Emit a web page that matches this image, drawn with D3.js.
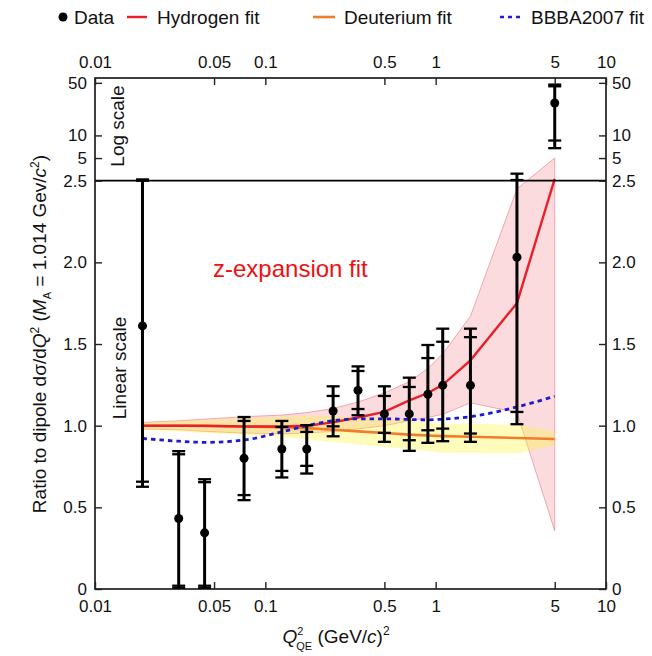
<!DOCTYPE html>
<html><head><meta charset="utf-8">
<script src="https://cdn.jsdelivr.net/npm/d3@7/dist/d3.min.js"></script>
<style>
html,body{margin:0;padding:0;background:#fff;}
svg text{font-family:"Liberation Sans",Arial,Helvetica,sans-serif;}
</style></head>
<body><svg id="c" width="652" height="656"></svg>
<script>
// ---- data ----
const q2 = [0.019, 0.031, 0.044, 0.075, 0.125, 0.175, 0.25, 0.35, 0.5, 0.7, 0.9, 1.1, 1.6, 3.0, 5.0];
const ratio = [1.611, 0.432, 0.344, 0.80, 0.857, 0.857, 1.09, 1.216, 1.072, 1.072, 1.192, 1.247, 1.247, 2.031, 27];
const statHi = [2.5, 0.825, 0.654, 1.029, 0.992, 0.962, 1.182, 1.335, 1.182, 1.237, 1.414, 1.514, 1.542, 2.55, 45];
const totHi  = [2.6, 0.844, 0.672, 1.053, 1.029, 1.003, 1.241, 1.363, 1.241, 1.294, 1.494, 1.594, 1.594, 3.1, 47.4];
const statLo = [0.657, 0.02, 0.02, 0.575, 0.723, 0.754, 0.996, 1.102, 0.956, 0.911, 0.972, 0.982, 0.952, 1.084, 8.55];
const totLo  = [0.626, 0.005, 0.005, 0.544, 0.683, 0.707, 0.935, 1.064, 0.901, 0.846, 0.895, 0.905, 0.901, 1.009, 6.77];

const hFit = [1.0, 1.0, 1.0, 0.995, 0.995, 1.0, 1.02, 1.05, 1.085, 1.155, 1.2, 1.25, 1.40, 1.75, 2.65];
const hHi  = [1.02, 1.03, 1.04, 1.055, 1.065, 1.08, 1.105, 1.145, 1.2, 1.27, 1.35, 1.44, 1.67, 2.45, 5.0];
const hLo  = [0.98, 0.975, 0.965, 0.955, 0.95, 0.955, 0.965, 0.98, 1.0, 1.03, 1.05, 1.07, 1.14, 1.08, 0.357];

const dFit = [1.0, 1.0, 0.998, 0.995, 0.99, 0.985, 0.975, 0.965, 0.955, 0.945, 0.94, 0.936, 0.932, 0.925, 0.918];
const dHi  = [1.02, 1.03, 1.035, 1.045, 1.055, 1.06, 1.06, 1.055, 1.045, 1.03, 1.02, 1.01, 1.014, 1.005, 0.965];
const dLo  = [0.975, 0.965, 0.955, 0.945, 0.93, 0.915, 0.9, 0.885, 0.87, 0.855, 0.845, 0.835, 0.832, 0.83, 0.88];

const bbba = [0.922, 0.905, 0.898, 0.912, 0.962, 1.0, 1.03, 1.042, 1.042, 1.038, 1.036, 1.04, 1.055, 1.115, 1.18];

const xTicks = [0.01, 0.05, 0.1, 0.5, 1, 5, 10];
const xTickLabels = ["0.01", "0.05", "0.1", "0.5", "1", "5", "10"];
const yLinTicks = [0, 0.5, 1.0, 1.5, 2.0, 2.5];
const yLinTickLabels = ["0", "0.5", "1.0", "1.5", "2.0", "2.5"];
const yLogTicks = [5, 10, 50];
const yLogTickLabels = ["5", "10", "50"];

// ---- layout ----
const L = 95, R = 606, T = 78, B = 589, YBREAK = 180.7;
const svg = d3.select("#c");
const x = d3.scaleLog().domain([0.01, 10]).range([L, R]);
const yLin = d3.scaleLinear().domain([0, 2.5]).range([B, YBREAK]);
const yLog = d3.scaleLog().domain([2.5, 58]).range([YBREAK, T]);
const Y = v => v <= 2.5 ? yLin(v) : yLog(v);

const idx = d3.range(q2.length);

svg.append("defs").append("clipPath").attr("id", "clip")
  .append("rect").attr("x", L).attr("y", T).attr("width", R - L).attr("height", B - T);
const plot = svg.append("g").attr("clip-path", "url(#clip)");

// bands
const band = (hi, lo) => d3.area().x(i => x(q2[i])).y0(i => Y(lo[i])).y1(i => Y(hi[i]))(idx);
plot.append("path").attr("d", band(hHi, hLo))
  .attr("fill", "rgba(238,90,100,0.22)").attr("stroke", "rgba(232,120,130,0.6)").attr("stroke-width", 1);
plot.append("path").attr("d", band(dHi, dLo))
  .attr("fill", "rgba(255,245,60,0.35)").attr("stroke", "none");

const line = (arr, curve) => d3.line().x(i => x(q2[i])).y(i => Y(arr[i])).curve(curve || d3.curveLinear)(idx);
plot.append("path").attr("d", line(dFit)).attr("fill", "none").attr("stroke", "#f07d2c").attr("stroke-width", 2.6);
plot.append("path").attr("d", line(hFit)).attr("fill", "none").attr("stroke", "#e8202a").attr("stroke-width", 2.4);
plot.append("path").attr("d", line(bbba, d3.curveMonotoneX)).attr("fill", "none").attr("stroke", "#1c1ccf")
  .attr("stroke-width", 2.8).attr("stroke-dasharray", "4.5,4");

// break line at 2.5
svg.append("line").attr("x1", L).attr("x2", R).attr("y1", YBREAK).attr("y2", YBREAK)
  .attr("stroke", "#000").attr("stroke-width", 1.8);

// data with error bars
const eg = plot.append("g");
idx.forEach(i => {
  const cx = x(q2[i]);
  eg.append("line").attr("x1", cx).attr("x2", cx).attr("y1", Y(totLo[i])).attr("y2", Y(totHi[i]))
    .attr("stroke", "#000").attr("stroke-width", 3);
  [totHi[i], statHi[i], statLo[i], totLo[i]].forEach(v => {
    eg.append("line").attr("x1", cx - 6.5).attr("x2", cx + 6.5).attr("y1", Y(v)).attr("y2", Y(v))
      .attr("stroke", "#000").attr("stroke-width", 2.3);
  });
  eg.append("circle").attr("cx", cx).attr("cy", Y(ratio[i])).attr("r", 4.5).attr("fill", "#000");
});

// frame
svg.append("rect").attr("x", L).attr("y", T).attr("width", R - L).attr("height", B - T)
  .attr("fill", "none").attr("stroke", "#111").attr("stroke-width", 1.6);

// axes
const fs = 17;
function styleAxis(g) {
  g.select(".domain").remove();
  g.selectAll(".tick line").attr("stroke", "#222").attr("stroke-width", 1.4);
  g.selectAll(".tick text").attr("font-size", fs).attr("fill", "#111")
    .attr("font-family", "Liberation Sans, Arial, sans-serif");
}
const xfmt = d => xTickLabels[xTicks.indexOf(d)];
svg.append("g").attr("transform", `translate(0,${B})`)
  .call(d3.axisBottom(x).tickValues(xTicks).tickFormat(xfmt).tickSizeInner(-7).tickSizeOuter(0).tickPadding(11))
  .call(styleAxis);
svg.append("g").attr("transform", `translate(0,${T})`)
  .call(d3.axisTop(x).tickValues(xTicks).tickFormat(xfmt).tickSizeInner(-7).tickSizeOuter(0).tickPadding(10))
  .call(styleAxis);

const linFmt = d => yLinTickLabels[yLinTicks.indexOf(d)];
const logFmt = d => yLogTickLabels[yLogTicks.indexOf(d)];
svg.append("g").attr("transform", `translate(${L},0)`)
  .call(d3.axisLeft(yLin).tickValues(yLinTicks).tickFormat(linFmt).tickSizeInner(-7).tickSizeOuter(0).tickPadding(8))
  .call(styleAxis);
svg.append("g").attr("transform", `translate(${L},0)`)
  .call(d3.axisLeft(yLog).tickValues(yLogTicks).tickFormat(logFmt).tickSizeInner(-7).tickSizeOuter(0).tickPadding(8))
  .call(styleAxis);
svg.append("g").attr("transform", `translate(${R},0)`)
  .call(d3.axisRight(yLin).tickValues(yLinTicks).tickFormat(linFmt).tickSizeInner(-7).tickSizeOuter(0).tickPadding(6))
  .call(styleAxis);
svg.append("g").attr("transform", `translate(${R},0)`)
  .call(d3.axisRight(yLog).tickValues(yLogTicks).tickFormat(logFmt).tickSizeInner(-7).tickSizeOuter(0).tickPadding(6))
  .call(styleAxis);

// annotations
svg.append("text").attr("transform", `translate(124,126) rotate(-90)`).attr("text-anchor", "middle")
  .attr("font-size", 19).attr("fill", "#111").text("Log scale");
svg.append("text").attr("transform", `translate(126,368) rotate(-90)`).attr("text-anchor", "middle")
  .attr("font-size", 19).attr("fill", "#111").text("Linear scale");
svg.append("text").attr("x", 213).attr("y", 277).attr("font-size", 24).attr("fill", "#f01010").text("z-expansion fit");

// y label
const yl = svg.append("text").attr("transform", `translate(46,334) rotate(-90)`).attr("text-anchor", "middle")
  .attr("font-size", 19).attr("fill", "#111");
yl.append("tspan").text("Ratio to dipole d\u03C3/d");
yl.append("tspan").text("Q").attr("font-style", "italic");
yl.append("tspan").text("2").attr("font-size", 12).attr("dy", -7);
yl.append("tspan").text(" (").attr("dy", 7);
yl.append("tspan").text("M").attr("font-style", "italic");
yl.append("tspan").text("A").attr("font-size", 11).attr("dy", 5);
yl.append("tspan").text(" = 1.014 Gev/").attr("dy", -5);
yl.append("tspan").text("c").attr("font-style", "italic");
yl.append("tspan").text("2").attr("font-size", 12).attr("dy", -7);
yl.append("tspan").text(")").attr("dy", 7);

// x label
const xl = svg.append("text").attr("x", 336).attr("y", 643).attr("text-anchor", "middle")
  .attr("font-size", 19).attr("fill", "#111");
xl.append("tspan").text("Q").attr("font-style", "italic");
xl.append("tspan").text("2").attr("font-size", 11).attr("dy", -8);
xl.append("tspan").text("QE").attr("font-size", 11).attr("dx", -7).attr("dy", 15);
xl.append("tspan").text(" (GeV/").attr("dy", -7);
xl.append("tspan").text("c").attr("font-style", "italic");
xl.append("tspan").text(")");
xl.append("tspan").text("2").attr("font-size", 12).attr("dy", -8);

// legend
const lg = svg.append("g").attr("font-size", 19);
const ly = 17;
lg.append("circle").attr("cx", 63).attr("cy", ly).attr("r", 4.5).attr("fill", "#000");
lg.append("text").attr("x", 74).attr("y", ly + 7).text("Data").attr("fill", "#111");
lg.append("line").attr("x1", 127).attr("x2", 147).attr("y1", ly).attr("y2", ly).attr("stroke", "#e8202a").attr("stroke-width", 2.4);
lg.append("text").attr("x", 157).attr("y", ly + 7).text("Hydrogen fit").attr("fill", "#111");
lg.append("line").attr("x1", 313).attr("x2", 335).attr("y1", ly).attr("y2", ly).attr("stroke", "#f07d2c").attr("stroke-width", 2.6);
lg.append("text").attr("x", 344).attr("y", ly + 7).text("Deuterium fit").attr("fill", "#111");
lg.append("line").attr("x1", 500).attr("x2", 522).attr("y1", ly).attr("y2", ly).attr("stroke", "#1c1ccf").attr("stroke-width", 2.4).attr("stroke-dasharray", "4,4");
lg.append("text").attr("x", 531).attr("y", ly + 7).text("BBBA2007 fit").attr("fill", "#111");
</script></body></html>
